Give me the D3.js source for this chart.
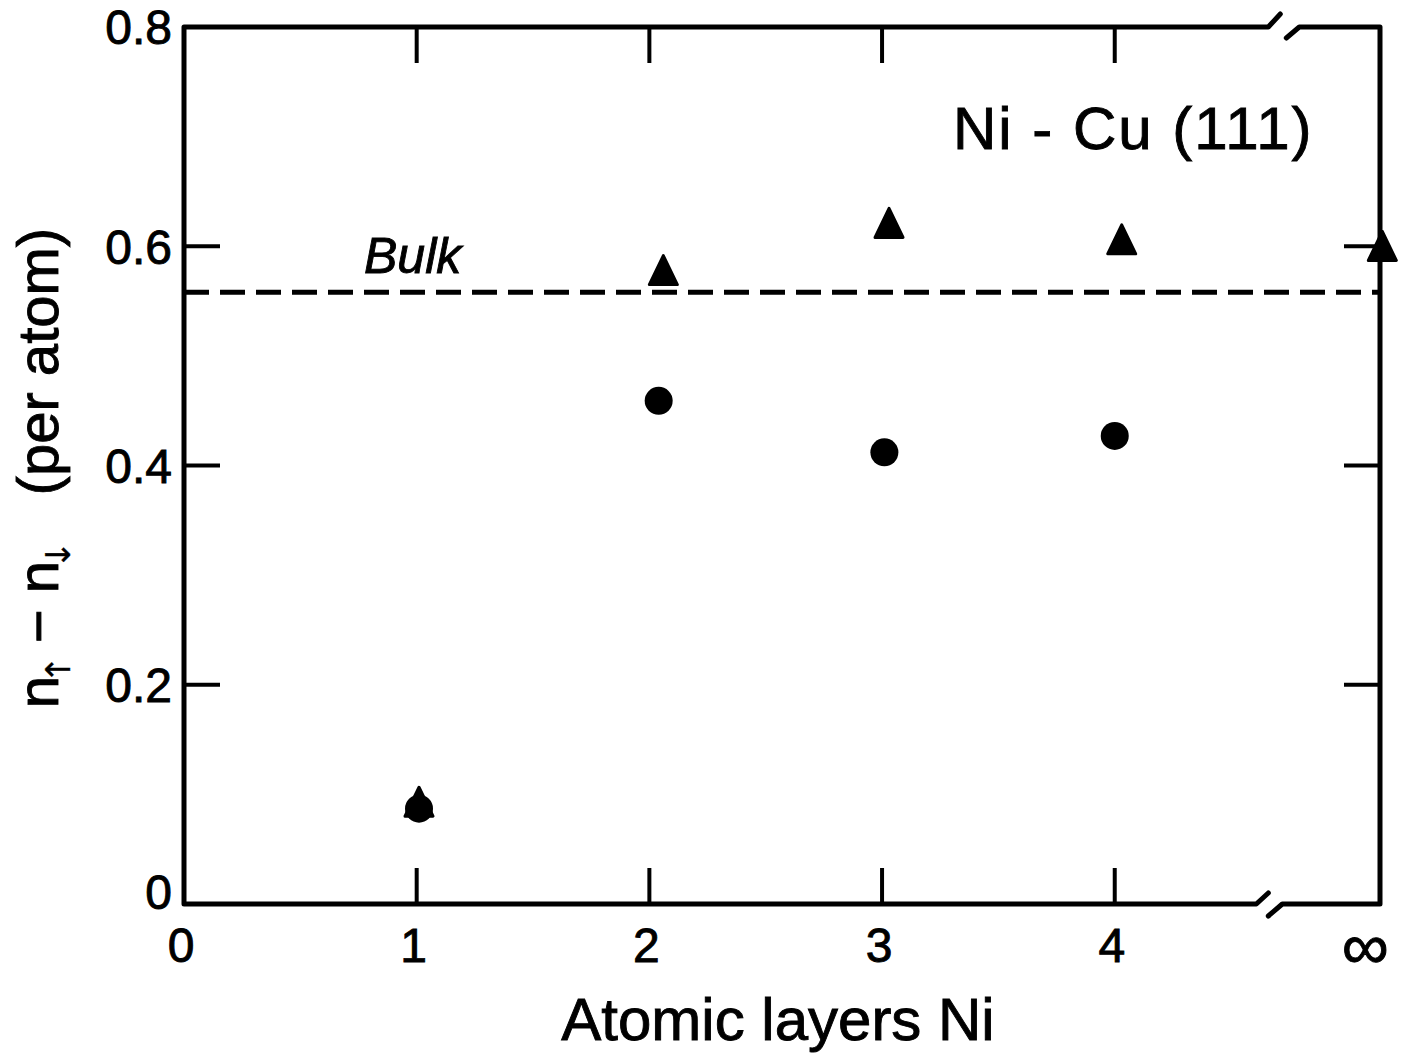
<!DOCTYPE html>
<html>
<head>
<meta charset="utf-8">
<script src="https://cdn.jsdelivr.net/npm/d3@7"></script>
<style>
  body { margin: 0; background: #fff; }
  svg text { font-family: "Liberation Sans", Arial, sans-serif; fill: #000; stroke: #000; stroke-width: 0.9px; }
</style>
</head>
<body>
<div id="chart-area"></div>
<script>
// values
var layer_labels = ["0", "1", "2", "3", "4", "\u221E"];
var layer_pos = [0, 1, 2, 3, 4, 5.09];
var triangle_x = [1.01, 2.06, 3.03, 4.03, 5.15];
var triangle_y = [0.091, 0.576, 0.619, 0.604, 0.598];
var circle_x = [1.01, 2.04, 3.01, 4.0];
var circle_y = [0.087, 0.459, 0.412, 0.427];
var bulk_value = 0.558;
var y_ticks = [0, 0.2, 0.4, 0.6, 0.8];
var y_tick_labels = ["0", "0.2", "0.4", "0.6", "0.8"];
var inner_ticks_x = [1, 2, 3, 4];
var inner_ticks_y = [0.2, 0.4, 0.6];
var x_break = 4.66;

var width = 1404, height = 1056;
var svg = d3.select("#chart-area").append("svg")
    .attr("width", width)
    .attr("height", height);

var xScale = d3.scaleLinear().domain([0, 5.14]).range([184, 1380]);
var yScale = d3.scaleLinear().domain([0, 0.8]).range([904, 27]);

var x0 = xScale(0), x1 = xScale(5.14), yTop = yScale(0.8), yBot = yScale(0);
var xb = xScale(x_break);

// frame with axis break
var frame = svg.append("g")
    .attr("fill", "none")
    .attr("stroke", "#000")
    .attr("stroke-width", 5)
    .attr("stroke-linecap", "round")
    .attr("stroke-linejoin", "round");
frame.append("path")
    .attr("d", "M" + (xb + 12) + "," + (yTop - 13) +
        " L" + xb + "," + yTop + " L" + x0 + "," + yTop +
        " L" + x0 + "," + yBot + " L" + (xb - 12) + "," + yBot +
        " L" + xb + "," + (yBot - 11));
frame.append("path")
    .attr("d", "M" + (xb + 18) + "," + (yTop + 11) +
        " L" + (xb + 31) + "," + yTop + " L" + x1 + "," + yTop +
        " L" + x1 + "," + yBot + " L" + (xb + 14) + "," + yBot +
        " L" + xb + "," + (yBot + 12));

// inward ticks
var tickLen = 36;
var ticks = svg.append("g").attr("stroke", "#000").attr("stroke-width", 4);
inner_ticks_x.forEach(function (v) {
    ticks.append("line").attr("x1", xScale(v)).attr("x2", xScale(v))
        .attr("y1", yBot).attr("y2", yBot - tickLen);
    ticks.append("line").attr("x1", xScale(v)).attr("x2", xScale(v))
        .attr("y1", yTop).attr("y2", yTop + tickLen);
});
inner_ticks_y.forEach(function (v) {
    ticks.append("line").attr("x1", x0).attr("x2", x0 + tickLen)
        .attr("y1", yScale(v)).attr("y2", yScale(v));
    ticks.append("line").attr("x1", x1).attr("x2", x1 - tickLen)
        .attr("y1", yScale(v)).attr("y2", yScale(v));
});

// tick labels
svg.append("g").selectAll("text")
    .data(y_ticks)
    .enter().append("text")
    .attr("x", 172)
    .attr("y", function (d) { return yScale(d) - (d === 0 ? 12 : 0); })
    .attr("dy", "0.36em")
    .attr("text-anchor", "end")
    .attr("font-size", 48)
    .text(function (d, i) { return y_tick_labels[i]; });

svg.append("g").selectAll("text")
    .data(layer_pos)
    .enter().append("text")
    .attr("x", function (d) { return xScale(d) - 3; })
    .attr("y", 945)
    .attr("dy", "0.36em")
    .attr("text-anchor", "middle")
    .attr("font-size", function (d, i) { return layer_labels[i] === "\u221E" ? 66 : 48; })
    .text(function (d, i) { return layer_labels[i]; });

// bulk line
svg.append("line")
    .attr("x1", x0).attr("x2", x1)
    .attr("y1", yScale(bulk_value)).attr("y2", yScale(bulk_value))
    .attr("stroke", "#000")
    .attr("stroke-width", 5)
    .attr("stroke-dasharray", "25,11");
svg.append("text")
    .attr("x", 364)
    .attr("y", 273)
    .attr("font-size", 50)
    .attr("font-style", "italic")
    .text("Bulk");

// triangles
svg.append("g").selectAll("path")
    .data(triangle_y)
    .enter().append("path")
    .attr("d", function (d, i) {
        var cx = xScale(triangle_x[i]), cy = yScale(d);
        return "M" + cx + "," + (cy - 17) + " L" + (cx + 14) + "," + (cy + 12) +
            " L" + (cx - 14) + "," + (cy + 12) + " Z";
    })
    .attr("fill", "#000")
    .attr("stroke", "#000")
    .attr("stroke-width", 3)
    .attr("stroke-linejoin", "round");

// circles
svg.append("g").selectAll("circle")
    .data(circle_y)
    .enter().append("circle")
    .attr("cx", function (d, i) { return xScale(circle_x[i]); })
    .attr("cy", function (d) { return yScale(d); })
    .attr("r", 14)
    .attr("fill", "#000");

// title inside
svg.append("text")
    .attr("x", 953)
    .attr("y", 149)
    .attr("font-size", 60)
    .attr("letter-spacing", 2)
    .text("Ni - Cu (111)");

// axis titles
svg.append("text")
    .attr("x", 778)
    .attr("y", 1040)
    .attr("text-anchor", "middle")
    .attr("font-size", 60)
    .text("Atomic layers Ni");

var ylab = svg.append("text")
    .attr("transform", "translate(58,468) rotate(-90)")
    .attr("text-anchor", "middle")
    .attr("font-size", 58);
ylab.append("tspan").text("n");
ylab.append("tspan").attr("font-family", "DejaVu Sans").attr("stroke-width", 0.3)
    .attr("font-size", 34).attr("dy", 12).attr("dx", -8).text("\u2191");
ylab.append("tspan").attr("dy", -12).attr("dx", -4).text(" \u2212 n");
ylab.append("tspan").attr("font-family", "DejaVu Sans").attr("stroke-width", 0.3)
    .attr("font-size", 34).attr("dy", 12).attr("dx", -8).text("\u2193");
ylab.append("tspan").attr("dy", -12).text("\u2002 (per atom)");
</script>
</body>
</html>
